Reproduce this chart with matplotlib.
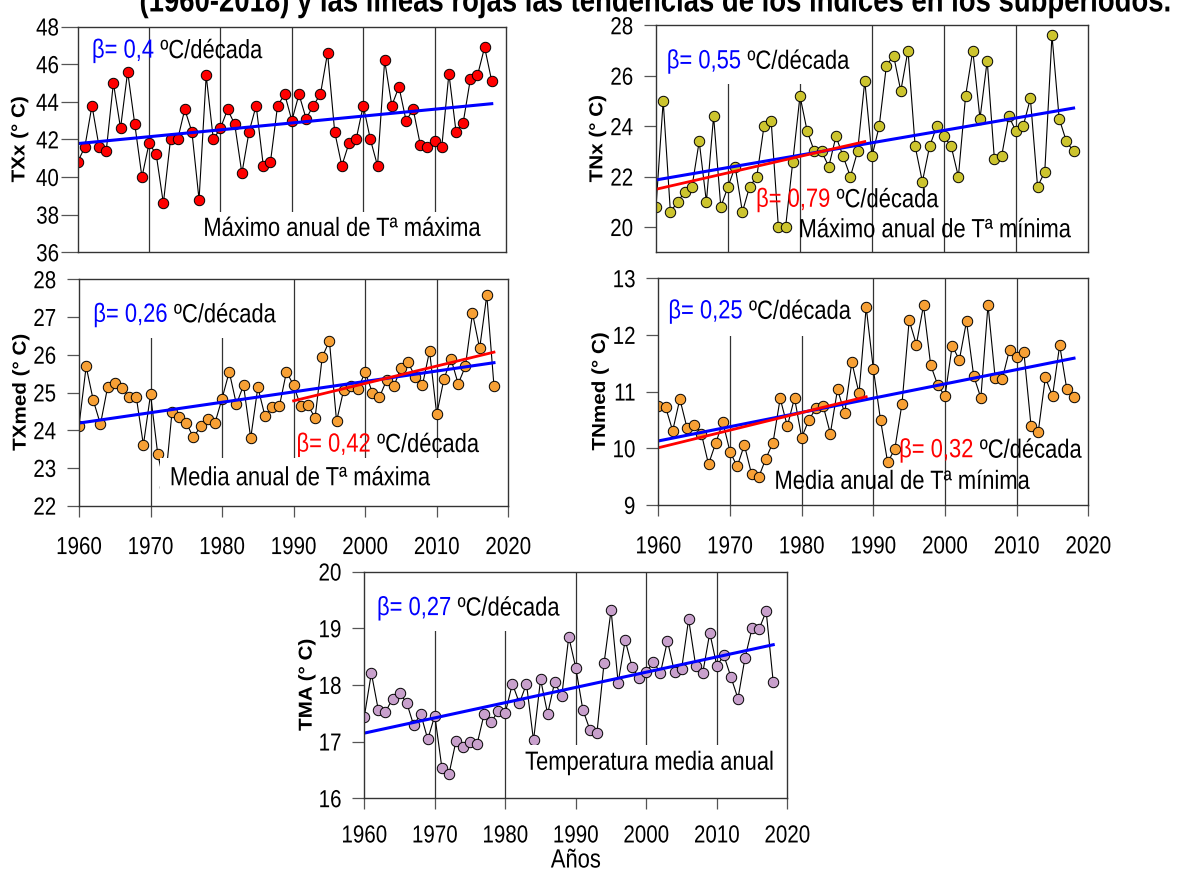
import matplotlib
matplotlib.use("Agg")
import matplotlib.pyplot as plt
from matplotlib import patheffects
from matplotlib.patches import Rectangle
from matplotlib.text import Text
from matplotlib.transforms import Bbox, Affine2D
import numpy as np

plt.rcParams['font.family'] = ['Liberation Sans', 'DejaVu Sans']
FS_TICK, FS_TXT, FS_TITLE = 14.8, 15.8, 19.8

years = np.arange(1960, 2019)

txx = [40.8, 41.6, 43.8, 41.6, 41.4, 45.0, 42.6, 45.6, 42.8, 40.0,
       41.8, 41.2, 38.6, 42.0, 42.0, 43.6, 42.4, 38.8, 45.4, 42.0,
       42.6, 43.6, 42.8, 40.2, 42.4, 43.8, 40.6, 40.8, 43.8, 44.4,
       43.0, 44.4, 43.1, 43.8, 44.4, 46.6, 42.4, 40.6, 41.8, 42.0,
       43.8, 42.0, 40.6, 46.2, 43.8, 44.8, 43.0, 43.6, 41.7, 41.6,
       41.9, 41.6, 45.5, 42.4, 42.9, 45.2, 45.4, 46.9, 45.1]

tnx = [20.8, 25.0, 20.6, 21.0, 21.4, 21.6, 23.4, 21.0, 24.4, 20.8,
       21.6, 22.4, 20.6, 21.6, 22.0, 24.0, 24.2, 20.0, 20.0, 22.6,
       25.2, 23.8, 23.0, 23.0, 22.4, 23.6, 22.8, 22.0, 23.0, 25.8,
       22.8, 24.0, 26.4, 26.8, 25.4, 27.0, 23.2, 21.8, 23.2, 24.0,
       23.6, 23.2, 22.0, 25.2, 27.0, 24.3, 26.6, 22.7, 22.8, 24.4,
       23.8, 24.0, 25.1, 21.6, 22.2, 27.6, 24.3, 23.4, 23.0]

txmed = [24.12, 25.69, 24.79, 24.16, 25.14, 25.26, 25.12, 24.89, 24.89, 23.61,
         24.95, 23.38, 22.5, 24.48, 24.34, 24.19, 23.81, 24.11, 24.29, 24.19,
         24.84, 25.55, 24.69, 25.19, 23.79, 25.14, 24.37, 24.61, 24.63, 25.55,
         25.19, 24.63, 24.66, 24.33, 25.94, 26.37, 24.24, 25.07, 25.16, 25.10,
         25.54, 25.00, 24.88, 25.33, 25.16, 25.66, 25.80, 25.41, 25.19, 26.10,
         24.42, 25.35, 25.89, 25.23, 25.69, 27.10, 26.17, 27.58, 25.18]

tnmed = [10.74, 10.73, 10.31, 10.87, 10.36, 10.42, 10.26, 9.72, 10.09, 10.46,
         9.94, 9.68, 10.06, 9.55, 9.49, 9.82, 10.10, 10.88, 10.39, 10.89,
         10.19, 10.50, 10.71, 10.75, 10.26, 11.04, 10.62, 11.52, 10.97, 12.49,
         11.40, 10.50, 9.75, 9.99, 10.79, 12.26, 11.83, 12.52, 11.47, 11.11,
         10.92, 11.81, 11.56, 12.24, 11.28, 10.89, 12.53, 11.24, 11.23, 11.74,
         11.61, 11.70, 10.40, 10.28, 11.25, 10.92, 11.82, 11.04, 10.91]

tma = [17.44, 18.21, 17.55, 17.52, 17.76, 17.85, 17.69, 17.29, 17.49, 17.04,
       17.46, 16.54, 16.42, 17.01, 16.91, 17.00, 16.96, 17.49, 17.35, 17.54,
       17.51, 18.02, 17.68, 18.02, 17.02, 18.10, 17.49, 18.05, 17.80, 18.85,
       18.30, 17.56, 17.21, 17.16, 18.38, 19.32, 18.04, 18.79, 18.31, 18.12,
       18.23, 18.41, 18.21, 18.78, 18.22, 18.28, 19.16, 18.34, 18.21, 18.92,
       18.34, 18.52, 18.14, 17.76, 18.48, 19.00, 18.99, 19.30, 18.05]

# trends: (first year, last year, first value, last value)
txx_trend = (1960, 2018, 41.78, 43.9)
tnx_trend = (1960, 2018, 21.87, 24.72)
tnx_sub = (1960, 1989, 21.5, 23.39)
txmed_trend = (1960, 2018, 24.19, 25.79)
txmed_sub = (1990, 2018, 24.78, 26.07)
tnmed_trend = (1960, 2018, 10.13, 11.59)
tnmed_sub = (1960, 1989, 10.01, 10.91)
tma_trend = (1960, 2018, 17.15, 18.71)


class VStretch(patheffects.AbstractPathEffect):
    # the original lettering is taller than it is wide
    def __init__(self, k=1.2):
        super().__init__()
        self.k = k

    def draw_path(self, renderer, gc, tpath, affine, rgbFace=None):
        ext = tpath.get_extents(affine)
        cy = 0.5 * (ext.y0 + ext.y1)
        if not np.isfinite(cy):
            cy = 0.0
        aff = affine + Affine2D().translate(0, -cy).scale(1, self.k).translate(0, cy)
        renderer.draw_path(gc, tpath, aff, rgbFace)


fig = plt.figure(figsize=(11.79, 8.71), dpi=100)


def panel(rect, vals, color, ylim, yticks, ylabel, xpad=None,
          ticklen=9, tickpad=7.5):
    ax = fig.add_axes(rect)
    ax.set_xlim(1960, 2020)
    ax.set_ylim(*ylim)
    ax.set_yticks(yticks)
    for d in [1970, 1980, 1990, 2000, 2010]:
        ax.axvline(d, color='#333333', lw=0.9, zorder=1)
    ax.plot(years, vals, color='black', lw=0.8, zorder=2)
    ax.plot(years, vals, 'o', ms=7.5, mfc=color, mec='black', mew=0.7, zorder=3)
    for s in ax.spines.values():
        s.set_color('#333333')
        s.set_linewidth(1.0)
        s.set_zorder(7)
    ax.tick_params(axis='y', direction='out', length=ticklen, width=0.9,
                   color='#555555', labelsize=FS_TICK, pad=tickpad)
    if xpad is not None:
        ax.set_xticks(range(1960, 2021, 10))
        ax.tick_params(axis='x', direction='out', length=8, width=0.9,
                       color='#555555', labelsize=FS_TICK, pad=xpad)
    else:
        ax.set_xticks([])
    ax.set_ylabel(ylabel, fontsize=13.5, fontweight='bold')
    ax.yaxis.set_label_coords(-0.115, 0.5)
    return ax


def trend(ax, tr, color, lw=2.2):
    ax.plot([tr[0], tr[1]], [tr[2], tr[3]], color=color, lw=lw, zorder=4)


def beta(ax, x, y, value, color):
    t = ax.text(x, y, "β= " + value, fontsize=FS_TXT, color=color,
                va='center', ha='left', zorder=6)
    t2 = ax.annotate(" ºC/década", xy=(1, 0), xycoords=t, fontsize=FS_TXT,
                     color='black', va='bottom', ha='left', zorder=6)
    return [t, t2]


def label(ax, x, y, s):
    return [ax.text(x, y, s, fontsize=FS_TXT, color='black', va='center',
                    ha='left', zorder=6)]


boxes = []

# TXx
ax1 = panel([0.0659, 0.7103, 0.3633, 0.2592], txx, '#FF0000', (36, 48),
            range(36, 49, 2), 'TXx (° C)', ticklen=12, tickpad=1.5)
trend(ax1, txx_trend, '#0000FF')
beta(ax1, 1962.0, 46.7, "0,4", '#0000FF')
boxes.append((ax1, label(ax1, 1977.6, 37.25, "Máximo anual de Tª máxima"), (6, 6), 'bottom'))

# TNx
ax2 = panel([0.5564, 0.7103, 0.3664, 0.2606], tnx, '#CCC42E', (19, 28),
            range(20, 29, 2), 'TNx (° C)')
trend(ax2, tnx_trend, '#0000FF')
trend(ax2, tnx_sub, '#FF0000', lw=2.0)
boxes.append((ax2, beta(ax2, 1961.5, 26.56, "0,55", '#0000FF'), (8, 12), 'top'))
beta(ax2, 1973.9, 21.07, "0,79", '#FF0000')
label(ax2, 1979.8, 19.88, "Máximo anual de Tª mínima")

# TXmed
ax3 = panel([0.0670, 0.4194, 0.3641, 0.2599], txmed, '#F7A035', (22, 28),
            range(22, 29), 'TXmed (° C)', xpad=15)
trend(ax3, txmed_trend, '#0000FF')
trend(ax3, txmed_sub, '#FF0000', lw=2.0)
boxes.append((ax3, beta(ax3, 1962.0, 27.05, "0,26", '#0000FF'), (8, 12), 'top'))
beta(ax3, 1990.4, 23.61, "0,42", '#FF0000')
boxes.append((ax3, label(ax3, 1972.7, 22.73, "Media anual de Tª máxima"), (10, 10), 'bottom'))

# TNmed
ax4 = panel([0.5584, 0.4202, 0.3647, 0.2603], tnmed, '#F7A035', (9, 13),
            range(9, 14), 'TNmed (° C)', xpad=15)
trend(ax4, tnmed_trend, '#0000FF')
trend(ax4, tnmed_sub, '#FF0000', lw=2.0)
boxes.append((ax4, beta(ax4, 1961.4, 12.41, "0,25", '#0000FF'), (4, 14), 'top'))
beta(ax4, 1993.6, 9.96, "0,32", '#FF0000')
label(ax4, 1976.2, 9.41, "Media anual de Tª mínima")

# TMA
ax5 = panel([0.3090, 0.0835, 0.3588, 0.2602], tma, '#C8A0CC', (16, 20),
            range(16, 21), 'TMA (° C)', xpad=12)
trend(ax5, tma_trend, '#0000FF')
boxes.append((ax5, beta(ax5, 1961.8, 19.35, "0,27", '#0000FF'), (8, 12), 'top'))
boxes.append((ax5, label(ax5, 1982.8, 16.62, "Temperatura media anual"), (8, 8), 'bottom'))
ax5.set_xlabel("Años", fontsize=FS_TXT)
ax5.xaxis.set_label_coords(0.5, -0.228)

fig.text(0.5564, 1 - 10 / 871,
         "(1960-2018) y las líneas rojas las tendencias de los índices en los subperiodos.",
         fontsize=FS_TITLE, fontweight='bold', ha='center', va='baseline')

# white boxes behind the texts, as in the original figure
fig.canvas.draw()
rend = fig.canvas.get_renderer()
for ax, texts, (px, py), side in boxes:
    bb = Bbox.union([t.get_window_extent(rend) for t in texts])
    inv = ax.transAxes.inverted()
    (x0, y0), (x1, y1) = inv.transform([[bb.x0 - px, bb.y0 - py],
                                        [bb.x1 + px, bb.y1 + py]])
    if side == 'top':
        x0, y1 = 0, 1
    else:
        x1, y0 = 1, 0
    ax.add_patch(Rectangle((x0, y0), x1 - x0, y1 - y0, transform=ax.transAxes,
                           facecolor='white', edgecolor='none', zorder=5))

for t in fig.findobj(Text):
    t.set_path_effects([VStretch(1.2)])
for ax in [ax1, ax2, ax3, ax4, ax5]:
    ax.yaxis.label.set_path_effects([VStretch(1.1)])

fig.savefig("out.png", dpi=100)
